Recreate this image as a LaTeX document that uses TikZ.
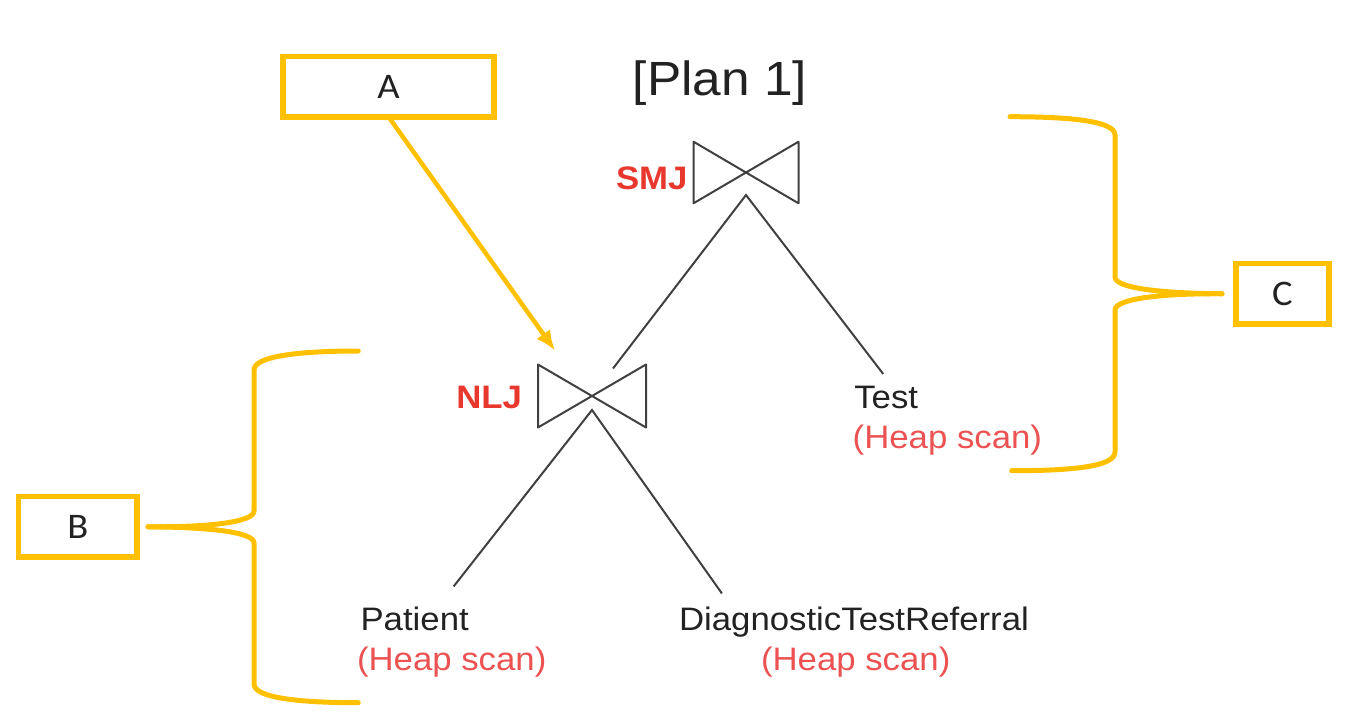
\documentclass[tikz,border=0pt]{standalone}
\usepackage{fontspec}
\setmainfont{Liberation Sans}[FakeStretch=1.07]
\newfontfamily\calloutfont{Carlito}[FakeStretch=1.07]
\usepackage{tikz}
\usetikzlibrary{arrows.meta, positioning}
\definecolor{markyellow}{RGB}{255,192,0}
\definecolor{opred}{RGB}{232,56,46}
\definecolor{scanred}{RGB}{236,82,82}
\definecolor{inkgray}{RGB}{34,34,34}
\definecolor{linegray}{RGB}{64,64,64}

\begin{document}
\begin{tikzpicture}[%
        x=1pt, y=-1pt,              % one unit per pixel, y grows downwards
        >={Latex[length=20pt, width=17pt]},
        font=\fontsize{32.5}{40}\selectfont,
        text=inkgray,
    ]
    \tikzset{
        base/.style={inner sep=0pt, outer sep=0pt},
        joinbox/.style={base, minimum width=105pt, minimum height=61.6pt},
        joinline/.style={draw=linegray, line width=2pt, line join=round},
        oplabel/.style={base, text=opred, font=\fontsize{32.5}{40}\selectfont\bfseries},
        leaf/.style={base, anchor=base west},
        scan/.style={leaf, text=scanred},
        % yellow annotation layer
        markbox/.style={base, draw=markyellow, line width=5.5pt, minimum height=60.5pt,
            font=\fontsize{36}{40}\calloutfont},
        pointer/.style={->, draw=markyellow, line width=4.5pt},
        brace/.style={draw=markyellow, line width=5pt, line cap=round, line join=round},
        treeline/.style={draw=linegray, line width=2pt, line join=miter},
    }
    \useasboundingbox (0,0) rectangle (1345,718);
    %%% Title
    \node [base, anchor=base, font=\fontsize{48}{56}\selectfont] (title) at (720,95) {[Plan 1]};
    %%% Join operators
    \node [joinbox] (smj) at (746,172.5) {};
    \node [joinbox, minimum width=108pt, minimum height=63pt] (nlj) at (592,396) {};
    \node [oplabel, left=6pt of smj, yshift=-6pt] (smjlabel) {SMJ};
    \node [oplabel, left=16pt of nlj, yshift=-1pt] (nljlabel) {NLJ};
    %%% Relations
    \node [leaf] (patient) at (360.5,630) {Patient};
    \node [scan] (patientscan) at (357,670) {(Heap scan)};
    \node [leaf] (dtr) at (679,630) {DiagnosticTestReferral};
    \node [scan] (dtrscan) at (761,670) {(Heap scan)};
    \node [leaf] (test) at (854.3,408.3) {Test};
    \node [scan] (testscan) at (852.7,448.3) {(Heap scan)};
    %%% Annotation boxes
    \node [markbox, minimum width=211pt] (boxa) at (388.5,86.5) {A};
    \node [markbox, minimum width=118.5pt] (boxb) at (77.75,526.75) {B};
    \node [markbox, minimum width=93pt] (boxc) at (1282.5,293.75) {C};
    \coordinate (btip) at ([xshift=11pt]boxb.east);
    \coordinate (ctip) at ([xshift=-14pt]boxc.west);
    %%% Connectors
    % -- bowties
    \draw [joinline] (smj.north west) -- (smj.south west) -- (smj.north east) -- (smj.south east) -- cycle;
    \draw [joinline] (nlj.north west) -- (nlj.south west) -- (nlj.north east) -- (nlj.south east) -- cycle;
    % -- tree
    \draw [treeline] ([xshift=21pt, yshift=-4pt]nlj.north) -- ([yshift=-22.5pt]smj.center)
        -- ([xshift=-3pt, yshift=12pt]test.north);
    \draw [treeline] ([xshift=39pt, yshift=20pt]patient.north) -- ([yshift=-14pt]nlj.center)
        -- ([xshift=-132pt, yshift=13pt]dtr.north);
    % -- annotations
    \draw [pointer] (boxa.south) -- ([xshift=17pt, yshift=14pt]nlj.north west);
    \draw [brace] (btip) .. controls (210,527.3) and (254,522) .. (254,511)
        -- (254,370) .. controls (254,356) and (300,351) .. (358.3,351);
    \draw [brace] (btip) .. controls (210,527.3) and (254,532) .. (254,543)
        -- (254,684) .. controls (254,698) and (300,702.7) .. (358.3,702.7);
    \draw [brace] (ctip) .. controls (1160,293.3) and (1115,288) .. (1115,277)
        -- (1115,135) .. controls (1115,121) and (1070,116.7) .. (1010,116.7);
    \draw [brace] (ctip) .. controls (1160,293.3) and (1115,299) .. (1115,310)
        -- (1115,452) .. controls (1115,467) and (1070,470.7) .. (1011.7,470.7);
\end{tikzpicture}
\end{document}
